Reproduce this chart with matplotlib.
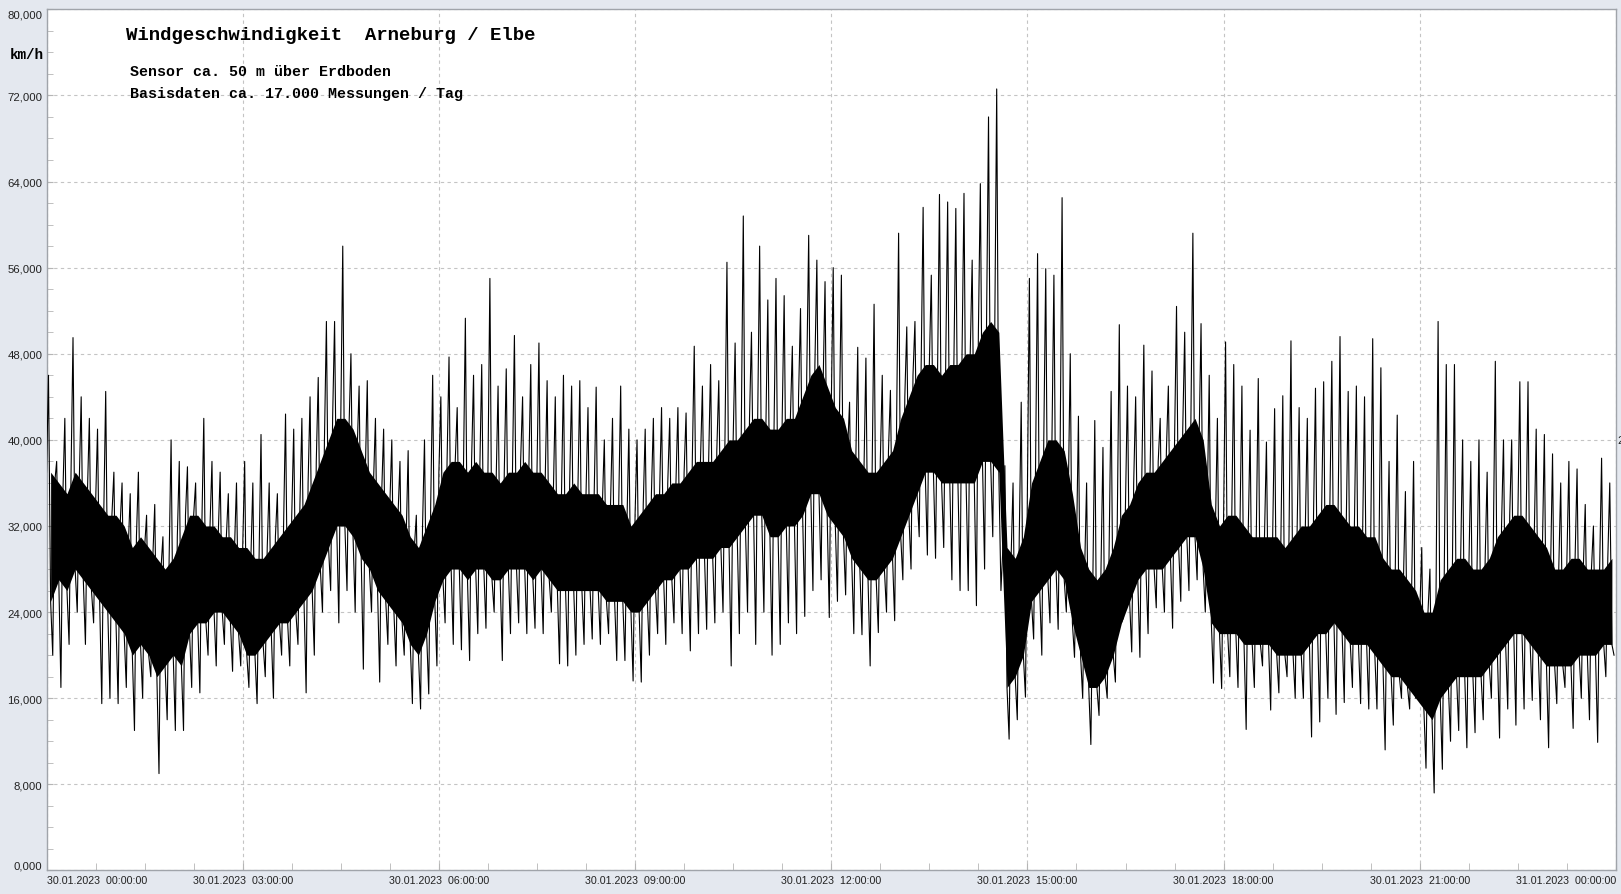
import numpy as np
import matplotlib
matplotlib.use("Agg")
import matplotlib.pyplot as plt
from matplotlib.ticker import MultipleLocator

# Wind speed, one entry per 7.5 min bin (8 bins / hour).
# hi/lo = tallest and deepest spike in the bin, core_hi/core_lo = dense black part
hi_vals = [
    46, 38, 42, 49.5, 44, 42, 41, 44.5,          # 00 h
    37, 36, 35, 37, 33, 34, 31, 40,              # 01 h
    38, 37.5, 36, 42, 38, 37, 35, 36,            # 02 h
    38, 36, 40.5, 36, 35, 42.4, 41, 42,          # 03 h
    44, 45.8, 51, 51, 58, 48, 45, 45.5,          # 04 h
    42, 41, 40, 38, 39, 33, 40, 46,              # 05 h
    44, 47.7, 43, 51.3, 46, 47, 55, 45,          # 06 h
    46.6, 49.7, 44, 47, 49, 45.5, 44, 46,        # 07 h
    45, 45.5, 43, 44.9, 40, 42, 45, 41,          # 08 h
    40, 41, 42, 43, 42, 43, 42.5, 48.7,          # 09 h
    45, 47, 45.5, 56.5, 49, 60.8, 50, 58,        # 10 h
    53, 55, 53.4, 48.7, 52.2, 59, 56.7, 54.7,    # 11 h
    56, 55.3, 43.5, 48.6, 47.6, 52.6, 46, 44.6,  # 12 h
    59.2, 50.5, 51, 61.6, 55.3, 62.8, 62.1, 61.5,  # 13 h
    62.9, 56.7, 63.8, 70, 72.6, 37.6, 36, 43.5,  # 14 h
    55, 57.3, 55.9, 55.3, 62.5, 48, 42.2, 36,    # 15 h
    41.8, 39.3, 44.5, 50.7, 45, 44, 48.8, 46.4,  # 16 h
    42, 45, 52.4, 50, 59.2, 50.8, 46, 42,        # 17 h
    49.1, 47, 45, 40.9, 45.7, 39.8, 42.9, 44.1,  # 18 h
    49.2, 43, 42, 44.8, 45.4, 47.3, 49.6, 44.5,  # 19 h
    45, 44, 49.4, 46.7, 38, 42.3, 35.2, 38,      # 20 h
    30, 28, 51, 47, 47, 40, 38, 40,              # 21 h
    37, 47.3, 40, 40, 45.4, 45.4, 41, 40.5,      # 22 h
    38.7, 36, 38, 37.3, 34, 32, 38.3, 36,        # 23 h
]
lo_vals = [
    20, 17, 21, 24, 21, 23, 15.5, 16,
    15.5, 17, 13, 16, 18, 9, 14, 13,
    13, 17, 16.5, 20, 19, 21, 18.5, 19,
    17, 15.5, 18, 16, 20, 19, 21, 16.5,
    20, 24, 26, 23, 26, 24, 18.7, 24,
    17.5, 21, 19, 20, 15.5, 15, 16.4, 19,
    23, 21, 20.5, 19.5, 22, 22.5, 24, 19.5,
    22, 23, 22, 22.5, 22, 24, 19.2, 19,
    20, 21, 21.5, 21, 22, 19.5, 19.5, 17.6,
    17.5, 20, 22, 21, 23, 22, 20.4, 22,
    22.4, 23, 24, 19, 22, 24, 21, 24,
    20, 21, 23, 22, 23.6, 26, 27, 23.5,
    25, 25.6, 22, 21.9, 19, 22.1, 24, 23.2,
    27, 28, 31, 29.3, 29, 30, 27, 26,
    26, 24.6, 28, 31, 26, 12.2, 14, 16.1,
    21.5, 20, 23, 22.4, 24, 19.8, 16, 11.7,
    14.4, 16, 17.5, 23.5, 20.3, 19.8, 22, 24.4,
    24, 22.5, 25, 26, 27, 24, 17.4, 16.9,
    18, 17, 13.1, 17, 19, 14.9, 16.5, 18,
    16, 16, 12.4, 13.8, 16, 14.5, 15.6, 17,
    15.5, 15, 15, 11.2, 13.5, 16, 15, 16.5,
    9.5, 7.2, 9.4, 12, 13, 11.4, 12.8, 14,
    16, 12.3, 15, 13.5, 15, 15.8, 14, 11.4,
    15.5, 17, 13.2, 16, 14, 11.9, 18, 20,
]
core_hi = [
    37, 36, 35, 37, 36, 35, 34, 33,
    33, 32, 30, 31, 30, 29, 28, 29,
    31, 33, 33, 32, 32, 31, 31, 30,
    30, 29, 29, 30, 31, 32, 33, 34,
    36, 38, 40, 42, 42, 41, 39, 37,
    36, 35, 34, 33, 31, 30, 32, 34,
    37, 38, 38, 37, 38, 37, 37, 36,
    37, 37, 38, 37, 37, 36, 35, 35,
    36, 35, 35, 35, 34, 34, 34, 32,
    33, 34, 35, 35, 36, 36, 37, 38,
    38, 38, 39, 40, 40, 41, 42, 42,
    41, 41, 42, 42, 44, 46, 47, 45,
    43, 42, 39, 38, 37, 37, 38, 39,
    42, 44, 46, 47, 47, 46, 47, 47,
    48, 48, 50, 51, 50, 30, 29, 31,
    36, 38, 40, 40, 39, 35, 30, 28,
    27, 28, 30, 33, 34, 36, 37, 37,
    38, 39, 40, 41, 42, 40, 34, 32,
    33, 33, 32, 31, 31, 31, 31, 30,
    31, 32, 32, 33, 34, 34, 33, 32,
    32, 31, 31, 29, 28, 28, 27, 26,
    24, 24, 27, 28, 29, 29, 28, 28,
    29, 31, 32, 33, 33, 32, 31, 30,
    28, 28, 29, 29, 28, 28, 28, 29,
]
core_lo = [
    25, 27, 26, 28, 27, 26, 25, 24,
    23, 22, 20, 21, 20, 18, 19, 20,
    19, 22, 23, 23, 24, 24, 23, 22,
    20, 20, 21, 22, 23, 23, 24, 25,
    26, 28, 30, 32, 32, 31, 29, 28,
    26, 25, 24, 23, 21, 20, 22, 25,
    27, 28, 28, 27, 28, 28, 27, 27,
    28, 28, 28, 27, 28, 27, 26, 26,
    26, 26, 26, 26, 25, 25, 25, 24,
    24, 25, 26, 27, 27, 28, 28, 29,
    29, 29, 30, 30, 31, 32, 33, 33,
    31, 31, 32, 32, 33, 35, 35, 33,
    32, 31, 29, 28, 27, 27, 28, 29,
    31, 33, 35, 37, 37, 36, 36, 36,
    36, 36, 38, 38, 37, 17, 18, 20,
    25, 26, 27, 28, 27, 23, 20, 17,
    17, 18, 20, 23, 25, 27, 28, 28,
    28, 29, 30, 31, 31, 28, 23, 22,
    22, 22, 21, 21, 21, 21, 20, 20,
    20, 20, 21, 22, 22, 23, 22, 21,
    21, 21, 20, 19, 18, 18, 17, 16,
    15, 14, 16, 17, 18, 18, 18, 18,
    19, 20, 21, 22, 22, 21, 20, 19,
    19, 19, 19, 20, 20, 20, 21, 21,
]

hour_ticks = [0, 3, 6, 9, 12, 15, 18, 21, 24]
hour_labels = ["30.01.2023  00:00:00", "30.01.2023  03:00:00", "30.01.2023  06:00:00",
               "30.01.2023  09:00:00", "30.01.2023  12:00:00", "30.01.2023  15:00:00",
               "30.01.2023  18:00:00", "30.01.2023  21:00:00", "31.01.2023  00:00:00"]
y_ticks = [0, 8, 16, 24, 32, 40, 48, 56, 64, 72, 80]

# trace inside each bin: band top -> spike up -> band bottom -> spike down
n_bins = len(hi_vals)
bin_w = 24.0 / n_bins
bin_start = np.arange(n_bins) * bin_w
t_trace = np.column_stack([bin_start, bin_start + 0.24 * bin_w,
                           bin_start + 0.5 * bin_w, bin_start + 0.76 * bin_w]).ravel()
v_trace = np.column_stack([core_hi, hi_vals, core_lo, lo_vals]).ravel()

bg = "#e4e8ef"
fig = plt.figure(figsize=(16.21, 8.95), dpi=100, facecolor=bg)
ax = fig.add_axes([0.0287, 0.0263, 0.9682, 0.9622])
ax.set_facecolor("white")

ax.fill_between(bin_start + 0.5 * bin_w, core_lo, core_hi, color="black", lw=0, zorder=3)
ax.plot(t_trace, v_trace, color="black", lw=0.8, zorder=4)

ax.set_xlim(0, 24)
ax.set_ylim(0, 80)

ax.set_xticks(hour_ticks)
ax.set_xticklabels(hour_labels, fontsize=7.7, family="Liberation Sans", color="#222222")
ax.xaxis.set_minor_locator(MultipleLocator(0.75))
ax.set_yticks(y_ticks)
ax.set_yticklabels([f"{v:.3f}".replace(".", ",") for v in y_ticks],
                   fontsize=8.2, family="Liberation Sans", color="#222222")
ax.yaxis.set_minor_locator(MultipleLocator(2))

xl = ax.get_xticklabels()
xl[0].set_ha("left")
xl[-1].set_ha("right")
yl = ax.get_yticklabels()
yl[0].set_va("bottom")
yl[-1].set_va("top")

ax.tick_params(axis="both", which="both", direction="in", color="#b5b5b5")
ax.tick_params(axis="x", which="both", length=5, pad=3)
ax.tick_params(axis="y", which="both", length=4, pad=3)

ax.grid(True, which="major", color="#c4c4c4", linestyle=(0, (3, 3)), lw=0.8, zorder=1)
for s in ax.spines.values():
    s.set_color("#a0a4aa")
    s.set_linewidth(1.0)

mono = "Liberation Mono"
fig.text(126 / 1621, 1 - 36 / 895, "Windgeschwindigkeit  Arneburg / Elbe",
         fontsize=13.7, family=mono, weight="bold", va="center", ha="left", zorder=10)
fig.text(130 / 1621, 1 - 72 / 895, "Sensor ca. 50 m über Erdboden",
         fontsize=10.8, family=mono, weight="bold", va="center", ha="left", zorder=10)
fig.text(130 / 1621, 1 - 94 / 895, "Basisdaten ca. 17.000 Messungen / Tag",
         fontsize=10.8, family=mono, weight="bold", va="center", ha="left", zorder=10)
fig.text(10 / 1621, 1 - 55 / 895, "km/h", fontsize=10.3, family=mono, weight="bold",
         va="center", ha="left")
fig.text(1617 / 1621, 1 - 441 / 895, "2", fontsize=8.2, family="Liberation Sans",
         color="#222222", va="center", ha="left")

fig.savefig("out.png", dpi=100, facecolor=bg)
